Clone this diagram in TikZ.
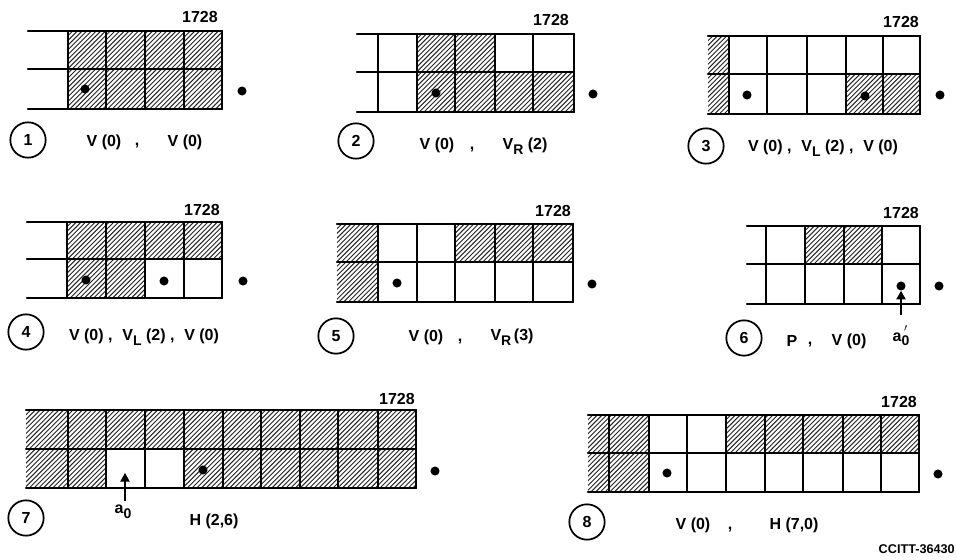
\documentclass[tikz,border=0pt]{standalone}
\usepackage{fontspec}
\setmainfont{Liberation Sans}
\usetikzlibrary{arrows.meta}
\newcommand{\lowsub}[1]{\raisebox{-3.6pt}{\fontsize{10.5}{11}\selectfont #1}}
% hatched rectangle: left, top, right, bottom (pixels)
\newcommand{\hatchbox}[4]{%
  \begin{scope}
    \clip (#1,#2) rectangle (#3,#4);
    \pgfmathtruncatemacro{\hatchn}{(#3+#4-#1-#2)/4.7+1}
    \foreach \hi in {0,...,\hatchn}{
      \pgfmathsetmacro{\hk}{#1+#2+\hi*4.7}
      \draw[hatchline] ({\hk-#2},#2) -- ({\hk-#4},#4);
    }
  \end{scope}}
% grid: left, top, middle, bottom, right, list of verticals
\newcommand{\gridlines}[6]{%
  \draw[ruling] (#1,#2) -- (#5,#2) (#1,#3) -- (#5,#3) (#1,#4) -- (#5,#4);
  \foreach \vx in {#6} \draw[ruling] (\vx,#2) -- (\vx,#4);}
\begin{document}
\begin{tikzpicture}[x=0.75pt,y=-0.75pt,
  ruling/.style={line width=1.7pt,line cap=round,black},
  hatchline/.style={line width=0.72pt,black!85},
  spot/.style={circle,fill=black,inner sep=0pt,minimum size=6.8pt},
  badge/.style={circle,draw=black,line width=1.3pt,inner sep=0pt,minimum size=26.5pt,font=\fontsize{12}{14}\selectfont\bfseries},
  lbl/.style={inner sep=0pt,font=\fontsize{12}{14}\selectfont\bfseries},
  num/.style={inner sep=0pt,font=\fontsize{12}{14}\selectfont\bfseries},
  pointer/.style={line width=1pt,-{Triangle[length=6.5pt,width=7pt]}}]
\useasboundingbox (0,0) rectangle (957,560);
\fill[white] (0,0) rectangle (957,560);

% Panel 1
\hatchbox{68}{31}{222}{109}
\gridlines{28}{31}{69}{109}{222}{68,106,145,184,222}
\node[spot] (d1a) at (85,89) {};
\node[spot] (d1b) at (242,91) {};
\node[num] (n1) at (200,17) {1728};
\node[badge] (c1) at (28,140) {1};
\node[lbl] (t1a) at (104,142) {V (0)};
\node[lbl] (t1b) at (137,146) {,};
\node[lbl] (t1c) at (185,142) {V (0)};

% Panel 2
\hatchbox{417}{34}{495}{72}
\hatchbox{417}{72}{574}{112}
\gridlines{357}{34}{72}{112}{574}{378,417,455,495,533,574}
\node[spot] (d2a) at (436,93) {};
\node[spot] (d2b) at (593,94) {};
\node[num] (n2) at (551,20) {1728};
\node[badge] (c2) at (356,141) {2};
\node[lbl] (t2a) at (437,145) {V (0)};
\node[lbl] (t2b) at (472,150) {,};
\node[lbl] (t2c) at (525,146) {V\lowsub{R} (2)};

% Panel 3
\hatchbox{708}{36}{729}{114}
\hatchbox{846}{74}{920}{114}
\gridlines{708}{36}{74}{114}{920}{729,767,807,846,883,920}
\node[spot] (d3a) at (747,95) {};
\node[spot] (d3b) at (865,96) {};
\node[spot] (d3c) at (940,95) {};
\node[num] (n3) at (901,22) {1728};
\node[badge] (c3) at (706,146) {3};
\node[lbl] (t3) at (823,148) {V (0) ,\hspace{4pt} V\lowsub{L} (2) ,\hspace{4pt} V (0)};

% Panel 4
\hatchbox{67}{222}{222}{259}
\hatchbox{67}{259}{145}{298}
\gridlines{27}{222}{259}{298}{222}{67,106,145,184,222}
\node[spot] (d4a) at (86,280) {};
\node[spot] (d4b) at (164,281) {};
\node[spot] (d4c) at (243,281) {};
\node[num] (n4) at (202,210) {1728};
\node[badge] (c4) at (26,332) {4};
\node[lbl] (t4) at (144,337) {V (0) ,\hspace{4pt} V\lowsub{L} (2) ,\hspace{4pt} V (0)};

% Panel 5
\hatchbox{337}{224}{378}{302}
\hatchbox{455}{224}{573}{262}
\gridlines{337}{224}{262}{302}{573}{378,417,455,495,533,573}
\node[spot] (d5a) at (397,283) {};
\node[spot] (d5b) at (592,284) {};
\node[num] (n5) at (553,211) {1728};
\node[badge] (c5) at (336,336) {5};
\node[lbl] (t5a) at (426,337) {V (0)};
\node[lbl] (t5b) at (460,342) {,};
\node[lbl] (t5c) at (512,337) {V\lowsub{R}\,(3)};

% Panel 6
\hatchbox{805}{226}{882}{264}
\gridlines{747}{226}{264}{304}{920}{766,805,844,882,920}
\node[spot] (d6a) at (901,286) {};
\node[spot] (d6b) at (939,286) {};
\node[num] (n6) at (901,213) {1728};
\node[badge] (c6) at (744,338) {6};
\node[lbl] (t6a) at (792,341) {P};
\node[lbl] (t6b) at (810,345) {,};
\node[lbl] (t6c) at (849,341) {V (0)};
\node[lbl] (a6) at (901,336) {a\rlap{\raisebox{2.5pt}{$\,'$}}\lowsub{0}};
\draw[pointer,shorten <=8pt] (a6.north) -- (d6a.south);

% Panel 7
\hatchbox{26}{410}{416}{449}
\hatchbox{26}{449}{106}{488}
\hatchbox{184}{449}{416}{488}
\gridlines{26}{410}{449}{488}{416}{68,106,145,184,223,261,300,338,378,416}
\node[spot] (d7a) at (203,470) {};
\node[spot] (d7b) at (435,471) {};
\node[num] (n7) at (397,399) {1728};
\node[badge] (c7) at (26,518) {7};
\node[lbl] (t7) at (214,521) {H (2,6)};
\node[lbl] (a7) at (123,512) {a\lowsub{0}};
\coordinate (p7) at (125,473);
\draw[pointer,shorten <=3pt] (a7.north -| p7) -- (p7);

% Panel 8
\hatchbox{588}{415}{649}{492}
\hatchbox{726}{415}{919}{453}
\gridlines{588}{415}{453}{492}{919}{609,649,687,726,765,803,843,881,919}
\node[spot] (d8a) at (667,473) {};
\node[spot] (d8b) at (938,474) {};
\node[num] (n8) at (899,402) {1728};
\node[badge] (c8) at (587,522) {8};
\node[lbl] (t8a) at (693,525) {V (0)};
\node[lbl] (t8b) at (730,530) {,};
\node[lbl] (t8c) at (794,525) {H (7,0)};
\node[anchor=east,inner sep=0pt,font=\fontsize{9.5}{11}\selectfont\bfseries] (ref) at (955,549) {CCITT-36430};
\end{tikzpicture}
\end{document}
